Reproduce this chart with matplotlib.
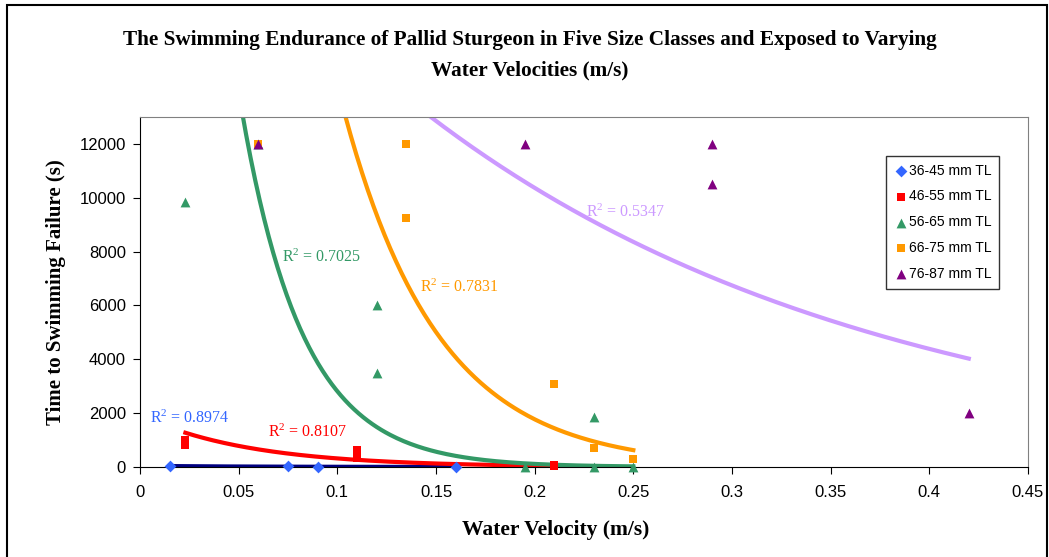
import numpy as np
import matplotlib.pyplot as plt
from matplotlib.patches import Rectangle

plt.rcParams['mathtext.fontset'] = 'custom'
plt.rcParams['mathtext.rm'] = 'Liberation Serif'
plt.rcParams['mathtext.it'] = 'Liberation Serif:italic'

blue_x = [0.015, 0.075, 0.09, 0.16]
blue_y = [40, 20, 15, 5]
red_x = [0.023, 0.023, 0.11, 0.11, 0.11, 0.21, 0.21]
red_y = [1000, 800, 650, 500, 350, 60, 20]
green_x = [0.023, 0.06, 0.12, 0.12, 0.195, 0.23, 0.23, 0.25]
green_y = [9850, 12000, 6000, 3480, 0, 1850, 0, 0]
orange_x = [0.06, 0.135, 0.135, 0.21, 0.23, 0.25]
orange_y = [12000, 12000, 9250, 3100, 700, 300]
purple_x = [0.06, 0.195, 0.29, 0.29, 0.42]
purple_y = [12000, 12000, 12000, 10500, 2000]

labels = ['36-45 mm TL', '46-55 mm TL', '56-65 mm TL', '66-75 mm TL', '76-87 mm TL']
colors = ['#3366FF', '#FF0000', '#339966', '#FF9900', '#800080']
markers = ['D', 's', '^', 's', '^']

# exponential trendlines y = a*exp(b*x), coefficients
trend_a = [45.0, 1925.0, 69000.0, 113500.0, 24500.0]
trend_b = [-18.0, -18.0, -32.0, -20.8, -4.3]
trend_r2 = ['0.8974', '0.8107', '0.7025', '0.7831', '0.5347']
trend_colors = ['#000080', '#FF0000', '#339966', '#FF9900', '#CC99FF']
r2_pos = [(0.005, 1650), (0.065, 1100), (0.072, 7600), (0.142, 6500), (0.226, 9300)]
r2_colors = ['#3366FF', '#FF0000', '#339966', '#FF9900', '#CC99FF']

xs = [blue_x, red_x, green_x, orange_x, purple_x]
ys = [blue_y, red_y, green_y, orange_y, purple_y]

fig = plt.figure(figsize=(10.49, 5.57), dpi=100)
ax = fig.add_axes([140 / 1049, 1 - 467 / 557, 888 / 1049, 350 / 557])

for i in range(5):
    xx = np.linspace(min(xs[i]), max(xs[i]), 200)
    ax.plot(xx, trend_a[i] * np.exp(trend_b[i] * xx), color=trend_colors[i], lw=3, zorder=2)

for i in range(5):
    ax.scatter(xs[i], ys[i], marker=markers[i], color=colors[i], s=36 if markers[i] != '^' else 50,
               label=labels[i], zorder=3, clip_on=False, linewidths=0)

for i in range(5):
    ax.text(r2_pos[i][0], r2_pos[i][1], 'R$^2$ = ' + trend_r2[i], color=r2_colors[i],
            family='Liberation Serif', fontsize=11.5)

ax.set_xlim(0, 0.45)
ax.set_ylim(0, 13000)
ax.set_xticks(np.arange(0, 0.451, 0.05))
ax.set_xticklabels(['0', '0.05', '0.1', '0.15', '0.2', '0.25', '0.3', '0.35', '0.4', '0.45'])
ax.set_yticks(range(0, 12001, 2000))
ax.tick_params(labelsize=12, length=5, direction='out')
ax.tick_params(axis='x', pad=8)
ax.tick_params(axis='y', pad=5)
for t in ax.get_xticklabels() + ax.get_yticklabels():
    t.set_family('Liberation Sans')
ax.spines['top'].set_color('#808080')
ax.spines['right'].set_color('#808080')

ax.set_xlabel('Water Velocity (m/s)', family='Liberation Serif', fontweight='bold', fontsize=15.5)
ax.xaxis.set_label_coords((556 - 140) / 888, -53 / 350)
ax.set_ylabel('Time to Swimming Failure (s)', family='Liberation Serif', fontweight='bold', fontsize=15, labelpad=10)

fig.text(0.505, 1 - 40 / 557, 'The Swimming Endurance of Pallid Sturgeon in Five Size Classes and Exposed to Varying',
         ha='center', va='center', family='Liberation Serif', fontweight='bold', fontsize=15.3)
fig.text(0.505, 1 - 70 / 557, 'Water Velocities (m/s)',
         ha='center', va='center', family='Liberation Serif', fontweight='bold', fontsize=15.3)

leg = ax.legend(loc='upper left', bbox_to_anchor=((886 - 140) / 888, (467 - 156) / 350),
                prop={'family': 'Liberation Sans', 'size': 10}, frameon=True, fancybox=False,
                edgecolor='black', handletextpad=0.1, labelspacing=0.85, borderpad=0.55,
                borderaxespad=0, handlelength=1.0, scatterpoints=1)
leg.get_frame().set_linewidth(1)

fig.patches.append(Rectangle((7 / 1049, -0.02), 1040 / 1049, 1.02 - 5 / 557, transform=fig.transFigure,
                             fill=False, edgecolor='black', lw=1.5))

fig.savefig('out.png', dpi=100)
